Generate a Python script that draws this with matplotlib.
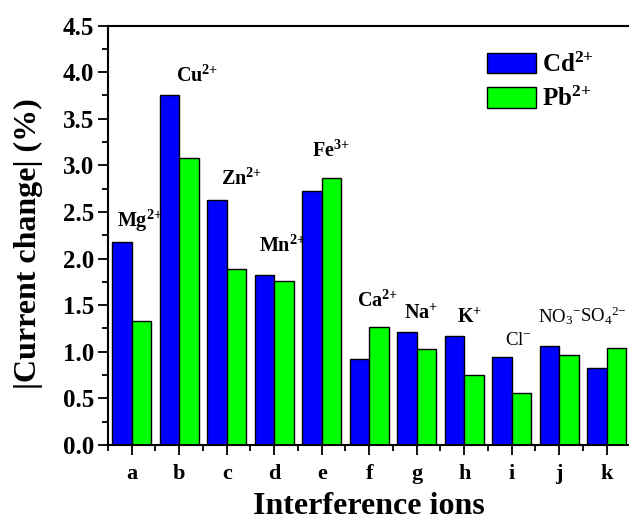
import matplotlib
matplotlib.use("Agg")
import matplotlib.pyplot as plt
import numpy as np
from matplotlib.ticker import MultipleLocator

plt.rcParams['font.family'] = ['Liberation Serif', 'DejaVu Serif']
plt.rcParams['mathtext.fontset'] = 'custom'
plt.rcParams['mathtext.rm'] = 'Liberation Serif'
plt.rcParams['mathtext.it'] = 'Liberation Serif:italic'
plt.rcParams['mathtext.bf'] = 'Liberation Serif:bold'

categories = ['a', 'b', 'c', 'd', 'e', 'f', 'g', 'h', 'i', 'j', 'k']
cd_values = [2.18, 3.75, 2.63, 1.82, 2.73, 0.92, 1.21, 1.17, 0.94, 1.06, 0.83]
pb_values = [1.33, 3.08, 1.89, 1.76, 2.87, 1.27, 1.03, 0.75, 0.56, 0.97, 1.04]
ion_labels = [r'$\mathbf{Mg}^{\mathbf{2{+}}}$', r'$\mathbf{Cu}^{\mathbf{2{+}}}$', r'$\mathbf{Zn}^{\mathbf{2{+}}}$',
              r'$\mathbf{Mn}^{\mathbf{2{+}}}$', r'$\mathbf{Fe}^{\mathbf{3{+}}}$', r'$\mathbf{Ca}^{\mathbf{2{+}}}$',
              r'$\mathbf{Na}^{\mathbf{{+}}}$', r'$\mathbf{K}^{\mathbf{{+}}}$', r'Cl$^{{-}}$',
              r'NO$_3{}^{{-}}$', r'SO$_4{}^{2{-}}$']
label_x = [0.68, 1.93, 2.89, 3.68, 4.79, 5.74, 6.73, 7.85, 8.86, 9.55, 10.43]
label_y = [2.34, 3.90, 2.79, 2.07, 3.09, 1.48, 1.35, 1.31, 1.07, 1.32, 1.32]
series_names = [r'$\mathbf{Cd}^{\mathbf{2{+}}}$', r'$\mathbf{Pb}^{\mathbf{2{+}}}$']

fig = plt.figure(figsize=(6.29, 5.22), dpi=100)
ax = fig.add_axes([0.1717, 0.1475, 0.8305, 0.8035])

x = np.arange(1, len(categories) + 1)
w = 0.41
ax.bar(x - w / 2, cd_values, width=w, color='#0000ff', edgecolor='black', linewidth=1.0, label=series_names[0])
ax.bar(x + w / 2, pb_values, width=w, color='#00ff00', edgecolor='black', linewidth=1.0, label=series_names[1])

for lx, ly, t in zip(label_x, label_y, ion_labels):
    is_bold = '\\mathbf' in t
    ax.text(lx, ly, t, fontsize=14.5 if is_bold else 13.5, ha='left', va='baseline',
            fontweight='bold' if is_bold else 'normal')

ax.set_xlim(0.5, 11.5)
ax.set_ylim(0, 4.5)
ax.set_xticks(x)
ax.set_xticklabels(categories, fontsize=16, fontweight='bold')
ax.xaxis.set_minor_locator(MultipleLocator(0.5))
ax.yaxis.set_minor_locator(MultipleLocator(0.25))
yt = np.arange(0, 4.51, 0.5)
ax.set_yticks(yt)
ax.set_yticklabels([f'{v:.1f}' for v in yt], fontsize=18, fontweight='bold')
ax.tick_params(axis='both', which='major', direction='out', length=7, width=1.3)
ax.tick_params(axis='both', which='minor', direction='out', length=4, width=1.3)
ax.tick_params(axis='x', which='major', pad=7)
ax.tick_params(axis='y', which='major', pad=3)
for s in ['left', 'bottom', 'top']:
    ax.spines[s].set_linewidth(1.5)
ax.spines['right'].set_visible(False)

ax.set_xlabel('Interference ions', fontsize=23, fontweight='bold')
ax.xaxis.set_label_coords(0.5, -0.112)
ax.set_ylabel('|Current change| (%)', fontsize=23, fontweight='bold')
ax.yaxis.set_label_coords(-0.125, 0.479)

leg = ax.legend(loc='upper left', bbox_to_anchor=(0.682, 0.99), frameon=False,
                prop={'family': 'Liberation Serif', 'weight': 'bold', 'size': 18},
                handlelength=1.96, handleheight=0.9, handletextpad=0.25, labelspacing=0.4)

fig.savefig('out.png', dpi=100)
